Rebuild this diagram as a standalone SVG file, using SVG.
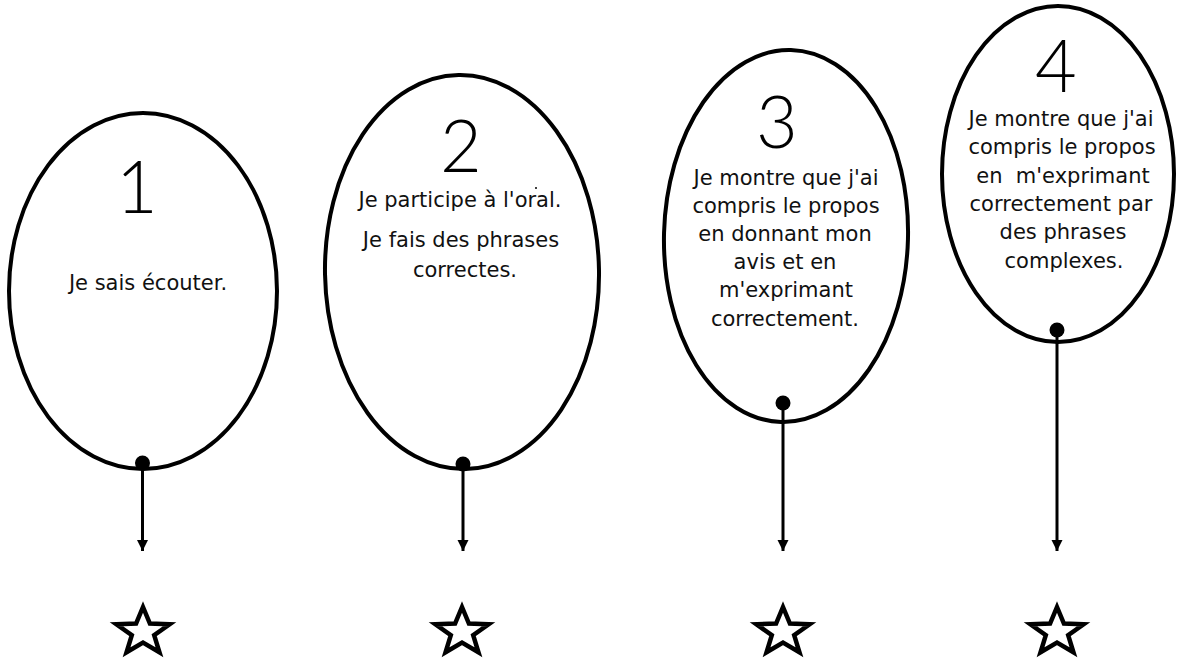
<svg xmlns="http://www.w3.org/2000/svg" width="1178" height="659" viewBox="0 0 1178 659">
  <style>
    .oval { fill: #ffffff; stroke: #000000; stroke-width: 4; }
    .num { font-family: Lato, "Open Sans", "DejaVu Sans", sans-serif; font-weight: 300; font-size: 72px; fill: #000000; text-anchor: middle; }
    .txt { font-family: "DejaVu Sans", Verdana, sans-serif; font-size: 21px; fill: #111111; text-anchor: middle; white-space: pre; }
    .conn { stroke: #000000; stroke-width: 3; fill: none; }
    .dot { fill: #000000; }
    .star { fill: #ffffff; stroke: #000000; stroke-width: 4.5; stroke-linejoin: miter; }
  </style>
  <defs>
    <marker id="arrow" markerUnits="userSpaceOnUse" markerWidth="12" markerHeight="12" refX="11" refY="5.5" orient="auto">
      <path d="M0,0 L11,5.5 L0,11 Z" fill="#000000"/>
    </marker>
    <path id="starShape" d="M0,-25 L6.91,-8.49 L26.63,-7.73 L11.18,3.24 L16.46,20.23 L0,10.5 L-16.46,20.23 L-11.18,3.24 L-26.63,-7.73 L-6.91,-8.49 Z"/>
  </defs>
  <rect width="1178" height="659" fill="#ffffff"/>

  <g id="node1">
    <ellipse class="oval" cx="143" cy="291" rx="134" ry="178"/>
    <text class="num" x="137" y="213">1</text>
    <text class="txt" x="148" y="290">Je sais écouter.</text>
  </g>

  <g id="node2">
    <ellipse class="oval" cx="462" cy="272" rx="137" ry="197" transform="rotate(-1 462 272)"/>
    <text class="num" x="461" y="172">2</text>
    <text class="txt" x="460" y="207">Je participe à l'oral.</text>
    <text class="txt" x="461" y="247">Je fais des phrases</text>
    <text class="txt" x="465" y="277">correctes.</text>
    <circle cx="536" cy="188" r="1" fill="#000000"/>
  </g>

  <g id="node3">
    <ellipse class="oval" cx="786" cy="236" rx="122" ry="186" transform="rotate(1.5 786 236)"/>
    <text class="num" x="777" y="148">3</text>
    <text class="txt" x="786" y="185">Je montre que j'ai</text>
    <text class="txt" x="786" y="213">compris le propos</text>
    <text class="txt" x="785" y="241">en donnant mon</text>
    <text class="txt" x="785" y="269">avis et en</text>
    <text class="txt" x="786" y="297">m'exprimant</text>
    <text class="txt" x="785" y="326">correctement.</text>
  </g>

  <g id="node4">
    <ellipse class="oval" cx="1058" cy="174" rx="116" ry="168"/>
    <text class="num" x="1056" y="92">4</text>
    <text class="txt" x="1061" y="126">Je montre que j'ai</text>
    <text class="txt" x="1062" y="154">compris le propos</text>
    <text class="txt" x="1063" y="183">en  m'exprimant</text>
    <text class="txt" x="1061" y="211">correctement par</text>
    <text class="txt" x="1063" y="239">des phrases</text>
    <text class="txt" x="1064" y="268">complexes.</text>
  </g>

  <g id="connectors">
    <line class="conn" x1="142.5" y1="463" x2="142.5" y2="551" marker-end="url(#arrow)"/>
    <line class="conn" x1="463" y1="464" x2="463" y2="551" marker-end="url(#arrow)"/>
    <line class="conn" x1="783" y1="403" x2="783" y2="551" marker-end="url(#arrow)"/>
    <line class="conn" x1="1057" y1="330" x2="1057" y2="551" marker-end="url(#arrow)"/>
    <circle class="dot" cx="142.5" cy="463" r="7.5"/>
    <circle class="dot" cx="463" cy="464" r="7.5"/>
    <circle class="dot" cx="783" cy="403" r="7.5"/>
    <circle class="dot" cx="1057" cy="330" r="7.5"/>
  </g>

  <g id="star1"><use href="#starShape" class="star" x="143" y="632"/></g>
  <g id="star2"><use href="#starShape" class="star" x="462" y="632"/></g>
  <g id="star3"><use href="#starShape" class="star" x="783" y="632"/></g>
  <g id="star4"><use href="#starShape" class="star" x="1057" y="632"/></g>
</svg>
